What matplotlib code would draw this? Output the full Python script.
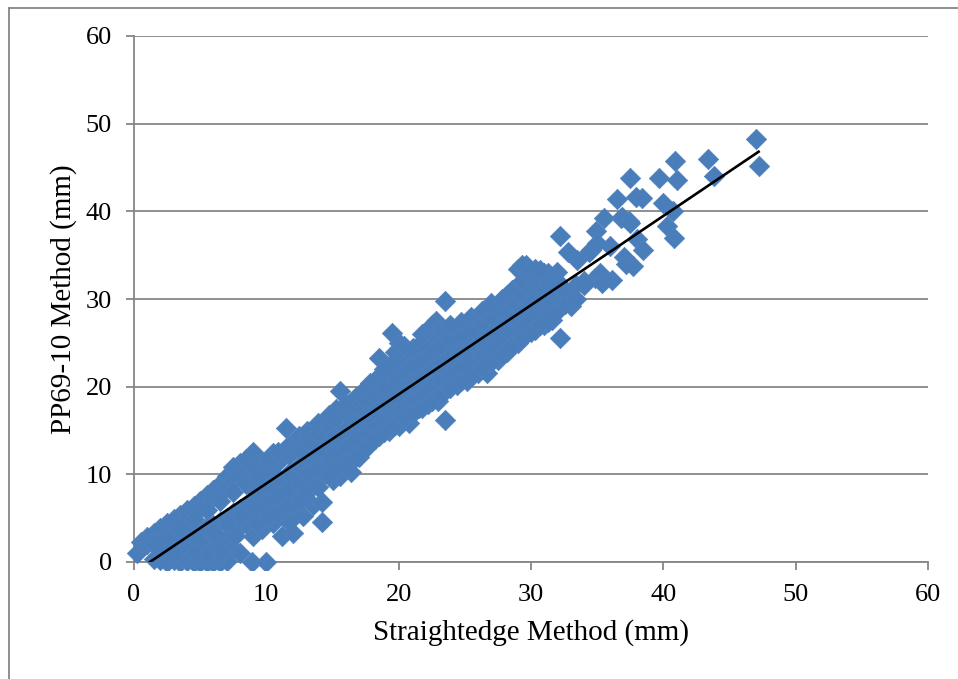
import matplotlib
matplotlib.use("Agg")
import matplotlib.pyplot as plt
from matplotlib.lines import Line2D
from matplotlib.patches import Rectangle

plt.rcParams["font.family"] = ["Liberation Serif", "DejaVu Serif"]

# values, one row per straightedge reading
straightedge = [
    0.2, 0.5, 1, 1, 1.5, 1.5, 1.5, 2, 2, 2, 2.5, 2.5, 2.5, 2.5,
    3, 3, 3, 3, 3.5, 3.5, 3.5, 3.5, 3.5, 4, 4, 4, 4, 4,
    4.5, 4.5, 4.5, 4.5, 4.5, 5, 5, 5, 5, 5, 5.5, 5.5, 5.5, 5.5, 5.5,
    6, 6, 6, 6, 6, 6.5, 6.5, 6.5, 6.5, 6.5, 7, 7, 7, 7, 7,
    7.5, 7.5, 7.5, 7.5, 7.5, 8, 8, 8, 8, 8, 8.9, 8.5, 8.5, 8.5, 8.5,
    9, 9, 9, 9, 9, 9.7, 9.7, 9.7, 9.7, 10, 10.5, 10.5, 10.5, 10.5, 10.5,
    11.2, 11.2, 11.2, 11.2, 11.5, 11.5, 12, 12, 12, 12, 12.5, 12.8, 12.8, 12.8,
    13.5, 13.5, 13.5, 13.5, 14.2, 14.2, 14.2, 14.2, 14.2, 15, 15, 15, 15,
    15.6, 15.6, 15.6, 15.6, 16.4, 16.4, 16.4, 16.4, 17, 17, 17, 17,
    17.8, 17.8, 17.8, 17.8, 18.5, 18.5, 18.5, 18.5, 18.5, 19.3, 19.3, 19.3, 19.3, 19.5,
    20, 20, 20, 20, 20, 20.8, 20.8, 20.8, 20.8, 21.5, 21.5, 21.5, 21.5, 21.5,
    22.2, 22.2, 22.2, 22.2, 22.8, 23, 23, 23, 23.5, 23.5, 23.6, 23.6, 23.6,
    24.4, 24.4, 24.4, 24.4, 25.2, 25.2, 25.2, 25.2, 26, 26, 26, 26,
    26.7, 26.7, 26.7, 26.7, 27.5, 27.5, 27.5, 27.5, 28.2, 28.2, 28.2, 28.2,
    29, 29, 29, 29, 29.6, 29.6, 29.6, 30.3, 30.3, 30.3, 30.3,
    31, 31, 31, 31, 31.6, 31.6, 31.6, 32.2, 32.2, 32.2, 33, 32, 32.8, 33.5,
    34.4, 34.8, 34.9, 35.2, 35.4, 35.5, 36, 36.1, 36.5, 36.8, 37, 37.2, 37.4,
    37.5, 37.7, 37.9, 38, 38.4, 38.5, 39.7, 40, 40.3, 40.7, 40.8, 40.9, 41,
    43.4, 43.8, 47, 47.2,
]
pp69 = [
    1.0, 2.3, 2.0, 2.9, 0.3, 2.6, 3.3, 0.2, 3.0, 3.9, 0.0, 1.2, 3.6, 4.4,
    0.2, 1.8, 4.0, 4.9, 0.0, 1.5, 2.6, 4.5, 5.4, 0.1, 2.0, 3.0, 5.0, 5.9,
    0.0, 1.5, 3.4, 5.6, 6.4, 0.0, 1.8, 3.6, 6.2, 7.0, 0.0, 2.0, 4.0, 6.8, 7.6,
    0.0, 2.0, 4.2, 7.4, 8.2, 0.0, 2.4, 4.6, 8.0, 8.9, 0.1, 2.8, 5.0, 8.6, 9.8,
    1.6, 3.6, 5.6, 9.4, 10.8, 1.0, 4.0, 6.0, 10.0, 11.3, 0.0, 4.5, 6.4, 10.6, 11.8,
    3.0, 5.0, 7.0, 11.0, 12.6, 3.8, 5.8, 7.6, 11.4, 0.0, 4.4, 6.4, 8.4, 11.0, 12.4,
    3.0, 5.4, 7.4, 9.2, 12.4, 15.3, 3.3, 5.6, 8.2, 10.0, 13.4, 5.3, 8.8, 11.0,
    6.5, 9.0, 11.4, 14.6, 4.6, 6.8, 9.8, 12.2, 15.4, 9.4, 11.6, 13.6, 16.2,
    9.8, 12.4, 14.6, 19.5, 10.3, 13.0, 15.4, 18.2, 12.0, 14.4, 16.4, 19.0,
    13.6, 15.4, 17.4, 20.4, 14.4, 16.4, 18.4, 21.2, 23.3, 15.0, 17.2, 19.4, 21.8, 26.1,
    15.5, 17.8, 20.2, 22.4, 25.0, 15.8, 18.4, 20.8, 23.4, 17.6, 19.4, 21.4, 23.4, 24.8,
    18.0, 20.2, 22.4, 26.4, 27.5, 18.4, 20.8, 23.8, 16.2, 29.8, 20.0, 22.4, 25.0,
    20.2, 22.2, 24.0, 26.2, 20.6, 22.8, 25.0, 27.2, 21.6, 23.6, 25.6, 27.6,
    21.6, 24.0, 26.2, 28.4, 23.0, 25.0, 27.0, 29.4, 24.0, 26.0, 28.0, 30.4,
    25.0, 27.0, 29.0, 33.4, 26.0, 28.0, 33.9, 26.5, 28.6, 30.6, 33.4,
    27.0, 29.0, 31.0, 33.0, 27.6, 29.6, 32.4, 25.5, 29.0, 37.2, 29.2, 33.1, 35.4, 34.5,
    35.4, 32.4, 37.7, 33.0, 31.8, 39.2, 36.0, 32.2, 41.4, 39.2, 34.8, 34.0, 38.9,
    43.8, 33.8, 41.6, 36.8, 41.5, 35.6, 43.8, 41.0, 38.3, 40.0, 37.0, 45.7, 43.6,
    46.0, 44.0, 48.3, 45.2,
]

# the solid part of the cloud, where single markers can only be estimated
dense_x = [
    1.5, 2.5, 3.5, 4.5, 5.5, 6.5, 7.5, 8.5, 4, 5, 6, 7, 8, 9, 3, 4.6, 5.6, 6.6, 7.6,
    9.3, 9.3, 9.3, 9.3, 10.1, 10.1, 10.1, 10.1, 10.1, 10.9, 10.9, 10.9, 10.9, 10.9,
    11.7, 11.7, 11.7, 11.7, 11.7, 11.7, 12.5, 12.5, 12.5, 12.5, 12.5,
    13.1, 13.1, 13.1, 13.1, 13.1, 13.9, 13.9, 13.9, 13.9, 13.9,
    14.7, 14.7, 14.7, 14.7, 14.7, 15.3, 15.3, 15.3, 15.3, 15.3,
    16, 16, 16, 16, 16, 16.8, 16.8, 16.8, 16.8, 16.8,
    17.5, 17.5, 17.5, 17.5, 17.5, 18.2, 18.2, 18.2, 18.2, 18.2,
    18.9, 18.9, 18.9, 18.9, 18.9, 19.7, 19.7, 19.7, 19.7, 19.7, 19.7,
    20.4, 20.4, 20.4, 20.4, 20.4, 20.4, 21.1, 21.1, 21.1, 21.1, 21.1,
    21.8, 21.8, 21.8, 21.8, 21.8, 21.8, 22.5, 22.5, 22.5, 22.5, 22.5, 22.5,
    23.2, 23.2, 23.2, 23.2, 23.2, 23.9, 23.9, 23.9, 23.9, 23.9,
    24.7, 24.7, 24.7, 24.7, 24.7, 25.5, 25.5, 25.5, 25.5, 25.5,
    26.3, 26.3, 26.3, 26.3, 26.3, 27, 27, 27, 27, 27,
    27.8, 27.8, 27.8, 27.8, 27.8, 28.6, 28.6, 28.6, 28.6, 28.6,
    29.3, 29.3, 29.3, 29.3, 29.3, 30, 30, 30, 30, 30,
    30.7, 30.7, 30.7, 30.7, 30.7, 31.3, 31.3, 31.3, 31.3, 31.3,
    32, 32, 32, 32.2, 32.6, 32.6, 33.4, 33.4, 34, 34,
    34.5, 35, 36.9, 37.5, 29.3, 29.9, 30.7,
]
dense_y = [
    2.0, 2.9, 3.9, 4.9, 5.9, 7.0, 8.0, 8.9, 1.3, 2.3, 3.4, 4.4, 5.4, 6.5, 0.9, 1.0, 1.0, 1.2, 3.0,
    9.6, 8.0, 6.0, 4.4, 10.4, 11.6, 8.6, 7.0, 5.2, 11.4, 12.6, 9.6, 7.6, 5.6,
    12.2, 13.4, 10.2, 8.4, 6.4, 4.6, 13.0, 14.4, 11.0, 9.0, 7.0,
    13.8, 15.0, 12.0, 10.0, 8.0, 14.6, 15.8, 12.8, 10.6, 8.6,
    15.6, 16.8, 13.6, 11.4, 9.8, 16.4, 17.4, 14.4, 12.4, 10.8,
    17.0, 18.0, 15.2, 13.0, 11.4, 17.6, 18.8, 16.0, 14.0, 12.0,
    18.4, 19.8, 16.6, 14.8, 13.0, 19.2, 20.6, 17.2, 15.4, 14.0,
    20.0, 22.0, 18.0, 16.2, 14.8, 20.8, 23.0, 24.0, 18.8, 17.0, 15.6,
    21.6, 23.8, 24.6, 19.8, 17.6, 16.4, 22.4, 24.4, 20.4, 18.4, 17.0,
    23.0, 25.0, 26.0, 21.0, 19.0, 17.6, 24.0, 26.0, 27.0, 22.0, 20.2, 18.4,
    24.8, 26.6, 22.6, 20.6, 19.0, 25.4, 27.0, 23.4, 21.4, 19.8,
    25.8, 27.4, 24.0, 22.2, 20.6, 26.6, 28.0, 24.6, 23.0, 21.4,
    27.4, 28.6, 25.4, 23.6, 22.2, 28.0, 29.6, 26.0, 24.4, 22.8,
    28.8, 30.0, 27.0, 25.0, 23.6, 29.6, 31.0, 27.8, 26.0, 24.6,
    30.4, 32.0, 28.6, 26.8, 25.6, 31.0, 32.6, 29.6, 27.8, 26.2,
    31.6, 32.6, 29.8, 28.0, 27.0, 31.8, 33.0, 30.0, 28.4, 27.4,
    32.0, 30.4, 28.6, 31.6, 30.8, 29.4, 31.6, 30.0, 32.0, 31.6,
    35.6, 36.4, 39.4, 38.7, 33.9, 33.3, 33.3,
]

trend_x = [1.2, 47.2]
trend_y = [0.0, 46.8]

ticks = [0, 10, 20, 30, 40, 50, 60]

fig = plt.figure(figsize=(9.58, 6.79), dpi=100)
ax = fig.add_axes([134 / 958, (679 - 562) / 679, 794 / 958, 526 / 679])

ax.set_xlim(0, 60)
ax.set_ylim(0, 60)
ax.set_xticks(ticks)
ax.set_yticks(ticks)
ax.grid(axis="y", color="#868686", linewidth=1.3, zorder=1)
ax.set_axisbelow(True)

pts = ax.scatter(straightedge + dense_x, pp69 + dense_y, marker="D", s=108, color="#4a7ebb",
                 edgecolors="#4f81bd", linewidths=0.5, zorder=3)
# the markers on the zero line are cut off just under the axis
pts.set_clip_path(Rectangle((-1, -0.95), 62, 62, transform=ax.transData))

ax.plot(trend_x, trend_y, color="black", linewidth=1.9, zorder=4)

for side in ["top", "right"]:
    ax.spines[side].set_visible(False)
for side in ["left", "bottom"]:
    ax.spines[side].set_color("#868686")
    ax.spines[side].set_linewidth(1.3)
ax.tick_params(axis="both", length=6, width=1.3, color="#868686", labelsize=19)
ax.tick_params(axis="x", pad=10)
ax.tick_params(axis="y", pad=10)

ax.set_xlabel("Straightedge Method (mm)", fontsize=21, labelpad=9)
ax.set_ylabel("PP69-10 Method (mm)", fontsize=21, labelpad=6)

# outer chart frame
fig.add_artist(Line2D([9 / 958, 9 / 958], [0, 1 - 8 / 679], color="#868686", linewidth=1.3))
fig.add_artist(Line2D([9 / 958, 1], [1 - 8 / 679, 1 - 8 / 679], color="#868686", linewidth=1.3))

fig.savefig("out.png", dpi=100)
